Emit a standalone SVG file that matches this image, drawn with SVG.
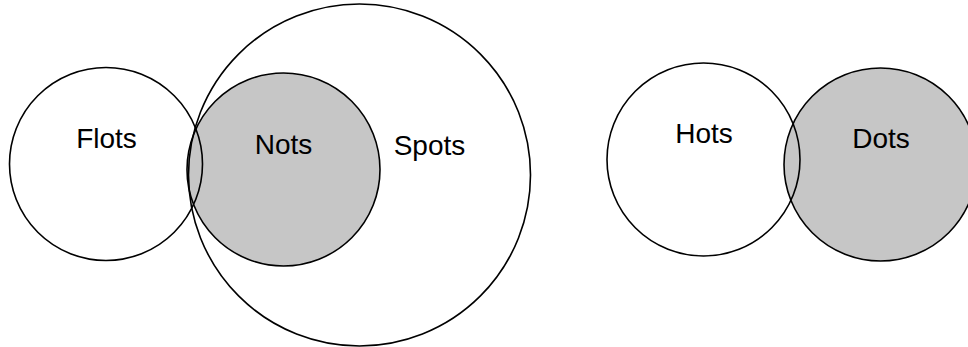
<svg xmlns="http://www.w3.org/2000/svg" width="968" height="347" viewBox="0 0 968 347">
<style>
.c{fill:none;stroke:#000;stroke-width:1.6}
.g{fill:#c6c6c6;stroke:#000;stroke-width:1.6}
.t{font-family:"Liberation Sans",Arial,sans-serif;font-size:28px;fill:#000;text-anchor:middle}
</style>
<rect width="968" height="347" fill="#fff"/>
<g id="nots"><circle class="g" cx="283.5" cy="169.5" r="96.5"/><text class="t" x="283.5" y="154">Nots</text></g>
<g id="spots"><circle class="c" cx="359.5" cy="175" r="171"/><text class="t" x="429.5" y="155">Spots</text></g>
<g id="flots"><circle class="c" cx="106" cy="164" r="96.5"/><text class="t" x="106.5" y="148">Flots</text></g>
<g id="dots"><circle class="g" cx="880.5" cy="164.5" r="96.5"/><text class="t" x="881" y="148">Dots</text></g>
<g id="hots"><circle class="c" cx="703.5" cy="159.5" r="96.5"/><text class="t" x="704" y="143">Hots</text></g>
<g id="connectors"/>
</svg>
